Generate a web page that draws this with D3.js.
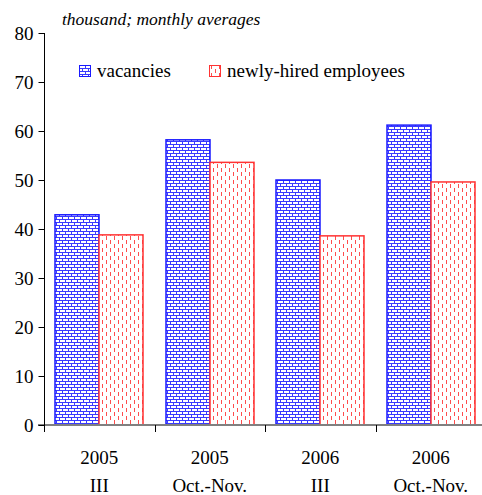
<!DOCTYPE html>
<html>
<head>
<meta charset="utf-8">
<script src="https://cdn.jsdelivr.net/npm/d3@7"></script>
</head>
<body style="margin:0">
<svg id="chart" width="482" height="495"></svg>
<script>
// Data
const categories = [["2005", "III"], ["2005", "Oct.-Nov."], ["2006", "III"], ["2006", "Oct.-Nov."]];
const seriesNames = ["vacancies", "newly-hired employees"];
const vacancies = [42.9, 58.2, 50.0, 61.2];
const newlyHired = [38.8, 53.6, 38.6, 49.6];
const yTicks = [0, 10, 20, 30, 40, 50, 60, 70, 80];
const unitLabel = "thousand; monthly averages";

const seriesValues = [vacancies, newlyHired];
const colors = ["#1a1aff", "#ff3333"];
const patternColors = ["#3a3aff", "#ff4d4d"];
const patternIds = ["brick", "dashes"];
const serif = "'Liberation Serif'";
const baseSize = 22;   // text is set at this size and scaled down to its drawn size

const svg = d3.select("#chart");

// Place a text element at (x, y) with a given drawn size
function placeText(sel, x, y, size) {
  sel.style("font-family", serif)
    .attr("font-size", baseSize)
    .attr("x", 0).attr("y", 0)
    .attr("transform", `translate(${x},${y}) scale(${size / baseSize})`);
  return sel;
}

const x0 = d3.scaleBand()
  .domain(d3.range(categories.length))
  .range([44, 486])
  .padding(0);
const bw = x0.bandwidth();
const x1 = d3.scaleBand()
  .domain(d3.range(seriesNames.length))
  .range([bw * 0.1, bw * 0.9])
  .padding(0);
const y = d3.scaleLinear().domain([0, 80]).range([425, 33]);

// Fill patterns built from whole-pixel rects
const defs = svg.append("defs");
const brick = defs.append("pattern")
  .attr("id", "brick").attr("patternUnits", "userSpaceOnUse")
  .attr("width", 6).attr("height", 6);
brick.append("rect").attr("width", 6).attr("height", 6).attr("fill", "#fff");
[[0, 0, 6, 1], [0, 3, 6, 1], [0, 0, 1, 3], [3, 3, 1, 3]].forEach(([x, yy, w, h]) =>
  brick.append("rect").attr("x", x).attr("y", yy).attr("width", w).attr("height", h)
    .attr("fill", patternColors[0]));

const dashes = defs.append("pattern")
  .attr("id", "dashes").attr("patternUnits", "userSpaceOnUse")
  .attr("width", 8).attr("height", 8);
dashes.append("rect").attr("width", 8).attr("height", 8).attr("fill", "#fff");
[[2, 0, 1, 4], [6, 4, 1, 4]].forEach(([x, yy, w, h]) =>
  dashes.append("rect").attr("x", x).attr("y", yy).attr("width", w).attr("height", h)
    .attr("fill", patternColors[1]));

// Bars
const groups = svg.append("g").selectAll("g")
  .data(categories)
  .join("g")
  .attr("transform", (d, i) => `translate(${Math.round(x0(i))},0)`);

groups.selectAll("rect")
  .data((d, i) => seriesValues.map((vals, s) => ({ s, v: vals[i] })))
  .join("rect")
  .attr("x", d => Math.round(x1(d.s)))
  .attr("width", Math.round(x1.bandwidth()))
  .attr("y", d => y(d.v))
  .attr("height", d => y(0) - y(d.v))
  .attr("fill", d => `url(#${patternIds[d.s]})`)
  .attr("stroke", d => colors[d.s])
  .attr("stroke-width", 1.5);

// Baseline
svg.append("line")
  .attr("x1", 38).attr("x2", 482)
  .attr("y1", y(0)).attr("y2", y(0))
  .attr("stroke", "#808080").attr("stroke-width", 2);

// Y axis
const yAxis = d3.axisLeft(y).tickValues(yTicks).tickSize(6).tickPadding(5);
const gy = svg.append("g").attr("transform", "translate(44.5,0)").call(yAxis);
gy.select(".domain").remove();
gy.selectAll(".tick line").attr("stroke", "#000");
gy.selectAll(".tick text").each(function () {
  placeText(d3.select(this), -11, 0, 19).attr("dy", "0.34em").attr("fill", "#000");
});
svg.append("line")
  .attr("x1", 44.5).attr("x2", 44.5).attr("y1", 33).attr("y2", 432)
  .attr("stroke", "#000").attr("stroke-width", 1);

// Category separators below the baseline
svg.append("g").selectAll("line")
  .data(d3.range(1, categories.length))
  .join("line")
  .attr("x1", i => Math.round(x0(i)) + 0.5).attr("x2", i => Math.round(x0(i)) + 0.5)
  .attr("y1", 425).attr("y2", 432)
  .attr("stroke", "#000");

// Category labels (two lines each)
svg.append("g").selectAll("text")
  .data(categories.flatMap((d, i) => d.map((t, k) => ({ t, i, k }))))
  .join("text")
  .attr("text-anchor", "middle")
  .text(d => d.t)
  .each(function (d) {
    placeText(d3.select(this), x0(d.i) + bw / 2, 464 + d.k * 28, 19);
  });

// Unit label
placeText(svg.append("text"), 62, 25, 17.5)
  .style("font-style", "italic")
  .text(unitLabel);

// Legend
const legendX = [79, 209];
const legend = svg.append("g")
  .selectAll("g")
  .data(seriesNames)
  .join("g")
  .attr("transform", (d, i) => `translate(${legendX[i]},65)`);
legend.append("rect")
  .attr("x", 0.5).attr("y", 0.5).attr("width", 11).attr("height", 11)
  .attr("fill", (d, i) => `url(#${patternIds[i]})`)
  .attr("stroke", (d, i) => colors[i]).attr("stroke-width", 1);
legend.append("text")
  .text(d => d)
  .each(function () { placeText(d3.select(this), 18, 12, 19); });
</script>
</body>
</html>
